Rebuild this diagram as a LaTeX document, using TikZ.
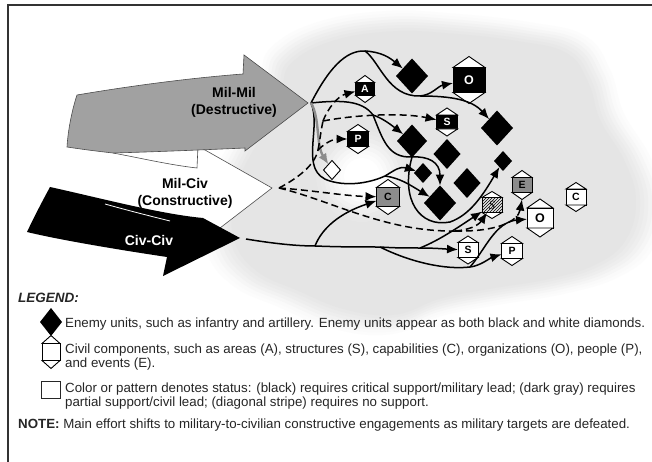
\documentclass[tikz,border=0pt]{standalone}
\usepackage{fontspec}
\setmainfont{Liberation Sans}
\newfontfamily\serifit{Liberation Serif}
\usetikzlibrary{arrows.meta,shapes.geometric,patterns}

\tikzset{
  dia/.style={diamond, fill=black, inner sep=0pt, outer sep=0pt},
  hexbox/.style={draw=black, line width=0.9pt, inner sep=0pt, outer sep=0pt,
    font=\bfseries\fontsize{10.5}{10.5}\selectfont},
  hexline/.style={draw=black, line width=0.9pt, line join=miter},
  conn/.style={line width=1.5pt, black},
  arrowed/.style={-{Latex[length=11pt,width=9pt]}},
  dconn/.style={conn, dash pattern=on 7pt off 4pt},
  grayconn/.style={line width=2.4pt, black!45, -{Latex[length=11pt,width=9pt]}},
  bigarrow/.style={line width=0.6pt, draw=black!70},
  biglabel/.style={font=\bfseries\fontsize{14}{17}\selectfont, align=center, inner sep=0pt},
  ltext/.style={font=\fontsize{13.3}{14.5}\selectfont, text=black!85, align=left, inner sep=0pt},
}

\newcommand\civhex[7]{%
  \node[hexbox, minimum width=#3pt, minimum height=#4pt, #6] (#1) at (#2) {#7};
  \filldraw[hexline, fill=white] (#1.north west) -- ([yshift=#5pt]#1.north) -- (#1.north east) -- cycle;
  \filldraw[hexline, fill=white] (#1.south west) -- ([yshift=-#5pt]#1.south) -- (#1.south east) -- cycle;
}

\begin{document}
\begin{tikzpicture}[x=1pt,y=-1pt]
\useasboundingbox (0,0) rectangle (652,462);
\fill[white] (0,0) rectangle (652,462);

% ---------- cloud background ----------
\foreach \s/\c in {1.13/1,1.11/2,1.09/3.5,1.07/5,1.05/6.5,1.03/8,1.01/9,0.99/10}{
  \fill[black!\c, scale around={\s:(435,175)}] plot[smooth cycle, tension=0.7] coordinates {
    (290,62) (330,40) (390,30) (450,32) (520,40) (568,52) (590,82) (602,120)
    (626,160) (638,200) (628,240) (598,265) (550,280) (490,290) (440,300)
    (395,316) (345,311) (297,292) (255,272) (232,240) (232,195) (246,160)
    (268,122) (280,88)};
}
\foreach \r/\c in {46/9.5,42/8.5,38/7,34/5.5,30/4,26/2.5,22/1,18/0}{
  \fill[black!\c] (362,176) circle[radius=\r];
}

% ---------- frame ----------
\draw[black!80, line width=1.3pt] (8,462) -- (8,5) -- (652,5);

% ---------- big arrows ----------
\coordinate (gtip) at (308,103);
\coordinate (wtip) at (272,188);
\coordinate (btip) at (240,238);
\coordinate (gt) at (311,103);
\coordinate (wt) at (279,188);
\coordinate (bt) at (246,239);

% white (constructive) arrow
\fill[white] (113,153) .. controls (140,158) and (170,165) .. (197,168) -- (198,146) -- (wtip)
   -- (207,238) -- (201,221) .. controls (150,212) and (90,195) .. (50,187) -- (60,140) -- cycle;
\draw[bigarrow, line join=miter] (113,153) .. controls (140,158) and (170,165) .. (197,168)
   -- (198,146) -- (wtip) -- (207,238);

% gray (destructive) arrow
\filldraw[bigarrow, fill=black!37, line join=miter] (77,95) .. controls (130,86) and (190,78) .. (243,74)
   -- (244,55) -- (gtip) -- (245,151) -- (245,148)
   .. controls (200,150) and (150,152) .. (113,153)
   .. controls (95,151) and (80,149) .. (67,147)
   .. controls (68,130) and (72,110) .. (77,95) -- cycle;

% black (civ-civ) arrow
\fill[black] (50,187) .. controls (100,198) and (160,214) .. (203,218) -- (btip) -- (163,276)
   -- (167,257) .. controls (120,250) and (60,240) .. (27,232)
   .. controls (35,215) and (43,200) .. (50,187) -- cycle;
\draw[white, line width=0.8pt] (105,204) .. controls (130,211) and (150,216) .. (170,221);

\node[biglabel] (lmm) at (234,102) {Mil-Mil\\(Destructive)};
\node[biglabel] (lmc) at (185,193) {Mil-Civ\\(Constructive)};
\node[biglabel, text=white] (lcc) at (149,240) {Civ-Civ};

% ---------- enemy units (diamonds) ----------
\node[dia, minimum width=32pt, minimum height=35pt] (D1) at (412,76) {};
\node[dia, minimum width=32pt, minimum height=35pt] (D2) at (497,128) {};
\node[dia, minimum width=30pt, minimum height=33pt] (D3) at (412,141) {};
\node[dia, minimum width=27pt, minimum height=30pt] (D4) at (447,154) {};
\node[dia, minimum width=18pt, minimum height=20pt] (D5) at (423,173) {};
\node[dia, minimum width=18pt, minimum height=20pt] (D6) at (503,161) {};
\node[dia, minimum width=27pt, minimum height=30pt] (D7) at (467,183) {};
\node[dia, minimum width=32pt, minimum height=35pt] (D8) at (440,203) {};
\node[dia, fill=white, draw=black, line width=0.9pt, minimum width=17pt, minimum height=19pt] (W) at (332,170) {};

% ---------- civil components (hexagons) ----------
\civhex{A1}{365,89}{19}{13}{7}{fill=black, text=white}{A}
\civhex{S1}{447,122}{21}{14}{7}{fill=black, text=white}{S}
\civhex{P1}{358,139}{21}{15}{7}{fill=black, text=white}{P}
\civhex{O1}{469,80}{32}{25}{11}{fill=black, text=white, font=\bfseries\fontsize{12.5}{12.5}\selectfont}{O}
\civhex{Cg}{388,197}{23}{19}{8}{fill=black!45}{C}
\civhex{E1}{522,185}{20}{15}{7}{fill=black!45}{E}
\civhex{Sst}{492,205}{20}{15}{6}{pattern=north east lines, font=\serifit\itshape\fontsize{12.5}{12.5}\selectfont}{S}
\civhex{Ow}{540,218}{26}{20}{9}{fill=white, font=\bfseries\fontsize{12.5}{12.5}\selectfont}{O}
\civhex{Sw}{468,250}{20}{15}{6.5}{fill=white}{S}
\civhex{Pw}{512,251}{21}{15}{7}{fill=white}{P}
\civhex{Cw}{576,197}{20}{16}{6.5}{fill=white}{C}

% ---------- connectors from Mil-Mil ----------
\coordinate (top1) at (365,51);
\coordinate (j1) at (420,96);
\coordinate (j2) at (373,115);
\coordinate (j3) at (385,176);
\coordinate (j4) at (412,157);
\draw[conn] (gt) .. controls (328,70) and (345,50) .. (top1);
\draw[conn, arrowed] (top1) .. controls (382,52) and (390,58) .. (D1);
\draw[conn] (top1) .. controls (380,62) and (388,97) .. (j1);
\draw[conn, arrowed] (j1) .. controls (432,95) and (438,86) .. (O1);
\draw[conn, arrowed] (j1) .. controls (452,96) and (472,100) .. (D2);
\draw[conn] (gt) .. controls (340,100) and (362,100) .. (j2);
\draw[conn, arrowed] (j2) .. controls (382,118) and (390,124) .. (D3);
\draw[conn] (j2) .. controls (383,140) and (388,158) .. (j4);
\draw[conn, arrowed] (j4) .. controls (428,156) and (440,162) .. (D8);
\draw[conn] (gt) .. controls (322,128) and (298,172) .. (330,181)
   .. controls (350,187) and (372,182) .. (j3);
\draw[conn, arrowed] (j3) .. controls (395,170) and (400,166) .. (D5);
\draw[conn, arrowed] (j3) .. controls (400,178) and (410,185) .. (D8);
\draw[conn, arrowed] (j4) .. controls (400,200) and (420,228) .. (450,222)
   .. controls (470,215) and (483,195) .. (D6);
\draw[grayconn] (gt) .. controls (320,118) and (316,145) .. (W);

% ---------- connectors from Mil-Civ ----------
\coordinate (jd1) at (455,231);
\coordinate (jd2) at (318,150);
\coordinate (jd3) at (323,121);
\draw[dconn] (wt) .. controls (298,178) and (315,165) .. (jd2);
\draw[dconn, arrowed] (jd2) .. controls (326,142) and (334,139) .. (P1);
\draw[dconn] (jd2) .. controls (320,140) and (321,130) .. (jd3);
\draw[dconn, arrowed] (jd3) .. controls (328,108) and (338,96) .. (A1);
\draw[dconn, arrowed] (jd3) .. controls (360,114) and (405,113) .. (S1);
\draw[dconn, arrowed] (wt) .. controls (310,190) and (345,196) .. (Cg);
\draw[dconn] (wt) .. controls (330,200) and (385,232) .. (jd1);
\draw[dconn, arrowed] (jd1) .. controls (468,230) and (478,226) .. (Sst);
\draw[dconn, arrowed] (jd1) .. controls (495,232) and (518,222) .. ([yshift=-7pt]E1.south);

% ---------- connectors from Civ-Civ ----------
\coordinate (jb1) at (315,246);
\coordinate (jb2) at (380,247);
\coordinate (jb3) at (420,248);
\coordinate (jb4) at (470,267);
\draw[conn] (bt) .. controls (270,243) and (295,246) .. (jb1)
   .. controls (340,247) and (360,247) .. (jb2)
   .. controls (395,248) and (405,248) .. (jb3);
\draw[conn, arrowed] (jb3) .. controls (435,248) and (445,249) .. (Sw);
\draw[conn, arrowed] (jb1) .. controls (322,228) and (340,213) .. (Cg);
\draw[conn] (jb2) .. controls (410,262) and (445,270) .. (jb4);
\draw[conn, arrowed] (jb4) .. controls (480,266) and (490,258) .. (Pw);
\draw[conn, arrowed] (jb3) .. controls (440,240) and (460,226) .. (Sst);
\draw[conn, arrowed] (jb4) .. controls (485,250) and (495,222) .. (Ow);

% ---------- legend ----------
\node[anchor=base west, inner sep=0pt, text=black!85,
      font=\bfseries\itshape\fontsize{13.5}{15}\selectfont] (LT) at (18,302) {LEGEND:};
\node[dia, minimum width=22pt, minimum height=28pt] (LD) at (51,322) {};
\civhex{LH}{51,352}{18}{17}{8}{fill=white}{}
\node[draw=black!85, line width=0.9pt, minimum width=19pt, minimum height=17pt, inner sep=0pt] (LS) at (50.5,389.5) {};
\node[ltext, anchor=base west] (T1) at (65,327) {Enemy units, such as infantry and artillery. Enemy units appear as both black and white diamonds.};
\node[ltext, anchor=base west] (T2) at (65,367.5) {Civil components, such as areas (A), structures (S), capabilities (C), organizations (O), people (P),\\and events (E).};
\node[ltext, anchor=base west] (T3) at (65,406.5) {Color or pattern denotes status: (black) requires critical support/military lead; (dark gray) requires\\partial support/civil lead; (diagonal stripe) requires no support.};
\node[ltext, anchor=base west] (T4) at (18,428) {\textbf{NOTE:} Main effort shifts to military-to-civilian constructive engagements as military targets are defeated.};
\end{tikzpicture}
\end{document}
